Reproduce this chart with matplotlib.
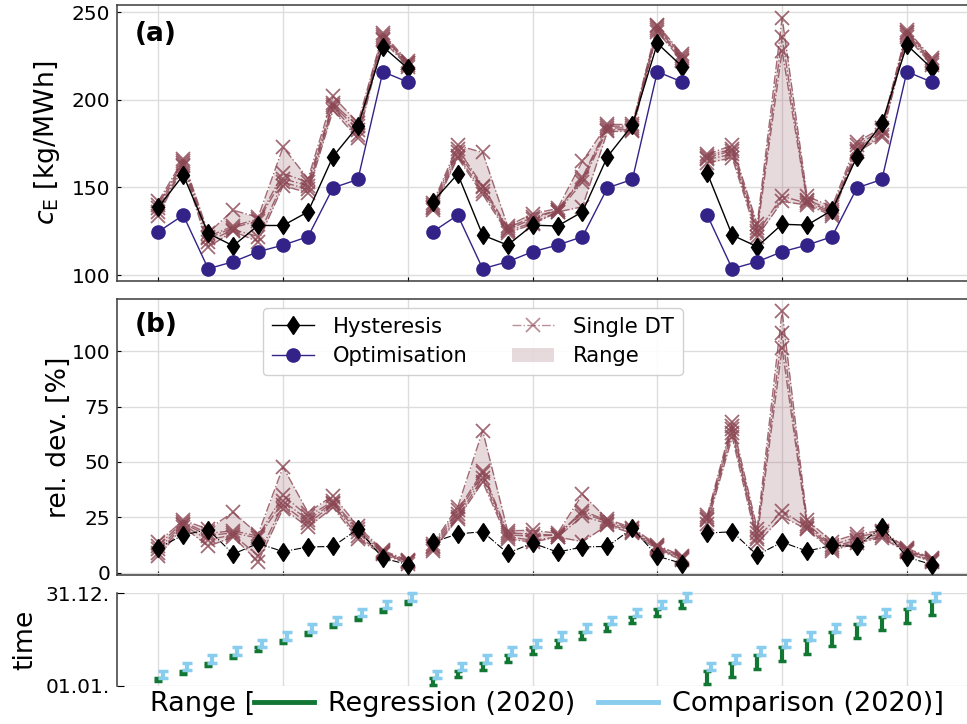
import numpy as np
import matplotlib
matplotlib.use("Agg")
import matplotlib.pyplot as plt
from matplotlib.lines import Line2D
from matplotlib.patches import Patch

# c_E in kg/MWh for the comparison months Feb..Dec 2020
optimisation = [124.7, 134.2, 103.6, 107.6, 113.3, 117.1, 121.9, 149.8, 154.6, 216.1, 210.2]

# hysteresis controller, one list per regression window (2, 4, 8 weeks)
hyst_2w = [138.6, 157.1, 123.8, 116.7, 128.3, 128.3, 136.1, 167.6, 185.1, 230.4, 218.0]
hyst_4w = [141.9, 157.7, 122.8, 117.1, 128.5, 128.0, 136.1, 167.6, 185.6, 232.3, 219.0]
hyst_8w = [158.2, 122.8, 116.2, 129.0, 128.5, 137.0, 167.6, 186.6, 231.4, 218.0]  # Mar..Dec

# single DT runs, one row per month, one column per run
single_2w = [
    [142, 140, 138, 136, 134],
    [166, 165, 164, 163, 162],
    [124, 122, 121, 119, 116],
    [137, 128, 127, 126, 125],
    [133, 132, 131, 122, 119],
    [173, 158, 155, 153, 151],
    [155, 153, 151, 149, 147],
    [202, 198, 197, 196, 194],
    [187, 185, 183, 180, 178],
    [238, 237, 236, 235, 234],
    [222, 221, 221, 220, 219],
]
single_4w = [
    [141, 140, 139, 138, 137],
    [174, 172, 170, 168, 167],
    [170, 151, 150, 148, 146],
    [128, 127, 126, 125, 124],
    [135, 133, 132, 130, 129],
    [138, 137, 137, 136, 136],
    [165, 156, 155, 153, 139],
    [186, 185, 184, 183, 182],
    [186, 185, 184, 183, 182],
    [243, 242, 241, 240, 239],
    [226, 225, 224, 223, 222],
]
single_8w = [
    [169, 168, 167, 166, 164],
    [174, 172, 171, 169, 167],
    [129, 127, 125, 124, 122],
    [247, 236, 228, 145, 142],
    [145, 143, 142, 141, 140],
    [139, 137, 136, 135, 134],
    [176, 174, 172, 171, 170],
    [184, 183, 182, 180, 179],
    [240, 239, 238, 237, 236],
    [224, 223, 222, 221, 220],
]

# time windows as day of year 2020 (start, end)
comp_start = [32, 61, 92, 122, 153, 183, 214, 245, 275, 306, 336]
comp_end = [60, 91, 121, 152, 182, 213, 244, 274, 305, 335, 366]
reg_2w_start = [18, 47, 78, 108, 139, 169, 200, 231, 261, 292, 322]
reg_2w_end = [31, 60, 91, 121, 152, 182, 213, 244, 274, 305, 335]
reg_4w_start = [4, 33, 64, 94, 125, 155, 186, 217, 247, 278, 308]
reg_4w_end = [31, 60, 91, 121, 152, 182, 213, 244, 274, 305, 335]
reg_8w_start = [5, 36, 66, 97, 127, 158, 189, 219, 250, 280]
reg_8w_end = [60, 91, 121, 152, 182, 213, 244, 274, 305, 335]

c_hyst = "black"
c_opt = "#332288"
c_single = "#8b4653"
c_reg = "#117733"
c_comp = "#88CCEE"

plt.rcParams.update({
    "font.family": "DejaVu Sans",
    "axes.edgecolor": "#3a3a3a",
    "axes.linewidth": 1.1,
    "xtick.direction": "in",
    "ytick.direction": "in",
    "xtick.major.size": 3,
    "ytick.major.size": 3,
    "ytick.major.pad": 4.8,
    "ytick.labelsize": 14.5,
    "grid.color": "#dddddd",
    "grid.linewidth": 1.0,
})

W, H = 967, 724
fig = plt.figure(figsize=(W / 100, H / 100), dpi=100)


def box(left, top, right, bottom):
    return [left / W, 1 - bottom / H, (right - left) / W, (bottom - top) / H]


ax_a = fig.add_axes(box(116.7, 5, 975, 281))
ax_b = fig.add_axes(box(116.7, 299, 975, 575))
ax_c = fig.add_axes(box(116.7, 593.3, 975, 685.5))

groups = [
    (hyst_2w, single_2w, optimisation, reg_2w_start, reg_2w_end, comp_start, comp_end),
    (hyst_4w, single_4w, optimisation, reg_4w_start, reg_4w_end, comp_start, comp_end),
    (hyst_8w, single_8w, optimisation[1:], reg_8w_start, reg_8w_end, comp_start[1:], comp_end[1:]),
]

pos = 0
for hyst, single, opt, rs, re_, cs, ce in groups:
    n = len(hyst)
    x = np.arange(pos, pos + n)
    pos += n
    hyst = np.array(hyst)
    opt = np.array(opt)
    single = np.array(single, dtype=float)
    hyst_rel = (hyst - opt) / opt * 100
    single_rel = (single - opt[:, None]) / opt[:, None] * 100

    # (a) absolute values
    ax_a.fill_between(x, single.min(axis=1), single.max(axis=1), color=c_single,
                      alpha=0.2, lw=0, zorder=1)
    for k in range(single.shape[1]):
        ax_a.plot(x, single[:, k], ls="-.", lw=1.0, color=c_single, alpha=0.8,
                  marker="x", ms=10, mew=1.3, zorder=2)
    ax_a.plot(x, hyst, "-", color=c_hyst, lw=1.0, marker="d", ms=9.5, zorder=3)
    ax_a.plot(x, opt, "-", color=c_opt, lw=1.0, marker="o", ms=9.5, zorder=3)

    # (b) relative deviation to the optimisation
    ax_b.fill_between(x, single_rel.min(axis=1), single_rel.max(axis=1), color=c_single,
                      alpha=0.2, lw=0, zorder=1)
    for k in range(single_rel.shape[1]):
        ax_b.plot(x, single_rel[:, k], ls="-.", lw=1.0, color=c_single, alpha=0.8,
                  marker="x", ms=10, mew=1.3, zorder=2)
    ax_b.plot(x, hyst_rel, "-.", color=c_hyst, lw=0.8, marker="d", ms=9.5, zorder=3)

    # (c) time windows
    rs, re_, cs, ce = map(np.array, (rs, re_, cs, ce))
    ax_c.errorbar(x, (rs + re_) / 2, yerr=(re_ - rs) / 2, fmt="none", ecolor=c_reg,
                  elinewidth=3.0, capsize=3.0, capthick=2.5, zorder=3, clip_on=False)
    ax_c.errorbar(x + 0.17, (cs + ce) / 2, yerr=(ce - cs) / 2, fmt="none", ecolor=c_comp,
                  elinewidth=3.0, capsize=3.3, capthick=2.5, zorder=3, clip_on=False)

xlim = (-1.667, 32.73)
for ax in (ax_a, ax_b, ax_c):
    ax.set_xlim(*xlim)
    ax.set_xticks(np.arange(0, 31, 5))
    ax.tick_params(axis="x", labelbottom=False, bottom=True, top=False)
    ax.tick_params(axis="y", left=True, right=False)
    ax.grid(True, zorder=0)
    ax.set_axisbelow(True)

ax_a.set_ylim(96.6, 254.2)
ax_a.set_yticks([100, 150, 200, 250])
ax_a.set_ylabel(r"$c_\mathrm{E}$ [kg/MWh]", fontsize=19.3)
ax_a.yaxis.set_label_coords(-0.064, 0.5)
ax_a.text(0.0214, 0.895, "(a)", transform=ax_a.transAxes, fontsize=19,
          fontweight="bold", ha="left", va="center")

ax_b.set_ylim(-1.0, 123.5)
ax_b.set_yticks([0, 25, 50, 75, 100])
ax_b.set_ylabel("rel. dev. [%]", fontsize=19.3)
ax_b.yaxis.set_label_coords(-0.052, 0.5)
ax_b.text(0.0214, 0.906, "(b)", transform=ax_b.transAxes, fontsize=19,
          fontweight="bold", ha="left", va="center")

handles = [
    Line2D([], [], color=c_hyst, lw=1.0, marker="d", ms=9.5),
    Line2D([], [], color=c_opt, lw=1.0, marker="o", ms=9.5),
    Line2D([], [], color=c_single, lw=1.0, ls="-.", alpha=0.6, marker="x", ms=10, mew=1.3),
    Patch(facecolor=c_single, alpha=0.2, lw=0),
]
ax_b.legend(handles, ["Hysteresis", "Optimisation", "Single DT", "Range"], ncol=2,
            loc="upper left", bbox_to_anchor=(0.1707, 0.966), borderaxespad=0,
            fontsize=15.2, handlelength=2.0, handletextpad=0.9, columnspacing=2.1,
            labelspacing=0.45, framealpha=0.9, edgecolor="#cccccc")

ax_c.set_ylim(1, 366)
ax_c.set_yticks([1, 366])
ax_c.set_yticklabels(["01.01.", "31.12."])
ax_c.set_ylabel("time", fontsize=19.3)
ax_c.yaxis.set_label_coords(-0.091, 0.5)
ax_c.tick_params(axis="x", bottom=False)
ax_c.tick_params(axis="y", length=5)
for side in ("top", "right", "bottom"):
    ax_c.spines[side].set_visible(False)

fig.text(150 / W, 1 - 704 / H, "Range [", fontsize=19.5, ha="left", va="center")
fig.legend([Line2D([], [], color=c_reg, lw=3.5), Line2D([], [], color=c_comp, lw=3.5)],
           ["Regression (2020)", "Comparison (2020)]"], ncol=2, loc="center left",
           bbox_to_anchor=(254 / W, 1 - 704 / H), frameon=False, fontsize=19.5,
           borderpad=0, borderaxespad=0, handlelength=2.2, handletextpad=0.52,
           columnspacing=0.85)

fig.savefig("out.png", dpi=100)
